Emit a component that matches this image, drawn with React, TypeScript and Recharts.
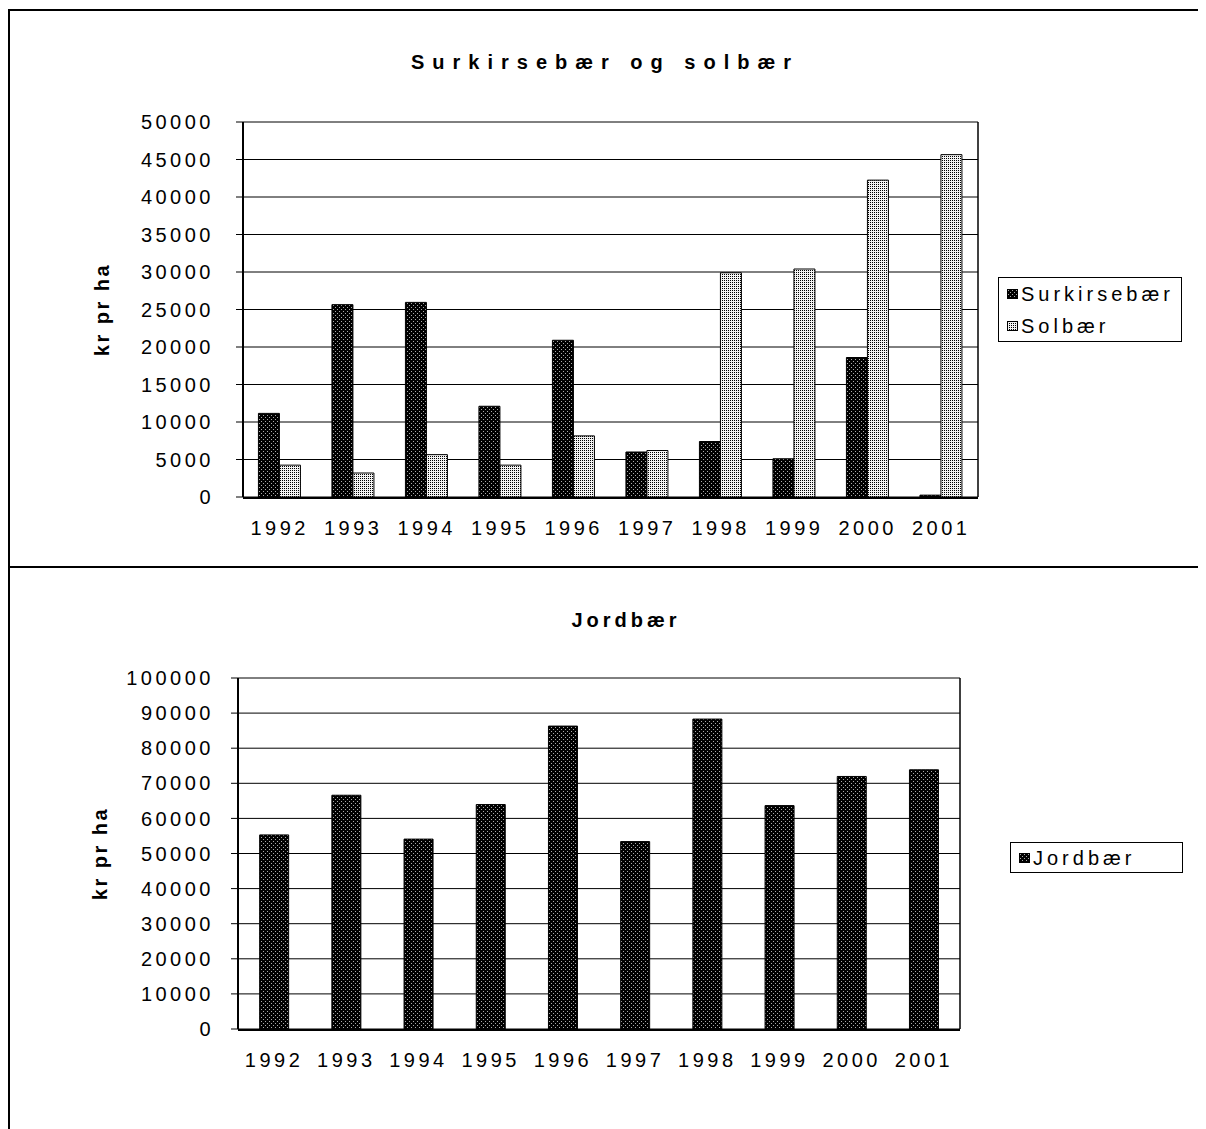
import React from 'react';
import { BarChart, Bar, XAxis, YAxis, CartesianGrid, Legend } from 'recharts';

const years = ['1992', '1993', '1994', '1995', '1996', '1997', '1998', '1999', '2000', '2001'];
const surkirsebaer = [11150, 25650, 25950, 12100, 20900, 6000, 7400, 5100, 18600, 250];
const solbaer = [4250, 3200, 5650, 4250, 8150, 6200, 29900, 30400, 42250, 45650];
const jordbaer = [55300, 66600, 54100, 63950, 86300, 53400, 88300, 63650, 71950, 73850];
const topTicks = [0, 5000, 10000, 15000, 20000, 25000, 30000, 35000, 40000, 45000, 50000];
const bottomTicks = [0, 10000, 20000, 30000, 40000, 50000, 60000, 70000, 80000, 90000, 100000];
const boundaries = [0, 1, 2, 3, 4, 5, 6, 7, 8, 9, 10];
const seriesOrder = ['Surkirsebær', 'Solbær', 'Jordbær'];

const topData = years.map((year, i) => ({ year, sur: surkirsebaer[i], sol: solbaer[i] }));
const bottomData = years.map((year, i) => ({ year, jord: jordbaer[i] }));

const FONT = '"Liberation Sans", Arial, Helvetica, sans-serif';
const LS = '3.5px';
const tickStyle = { fill: '#000', fontSize: 20, fontFamily: FONT };

const YLabel = (props: any) => {
  const vb = props.viewBox || { x: 0, y: 0, width: 0, height: 0 };
  const cx = vb.x + props.cxOffset;
  const cy = vb.y + vb.height / 2;
  return (
    <text
      x={cx}
      y={cy}
      transform={`rotate(-90 ${cx} ${cy})`}
      textAnchor="middle"
      dominantBaseline="central"
      style={{ fontFamily: FONT, fontSize: 20, fontWeight: 'bold', letterSpacing: '2.5px', fill: '#000' }}
    >
      kr pr ha
    </text>
  );
};

const makeLegend = (height: number, rowHeight: number) => (props: any) => {
  const payload = [...(props.payload || [])].sort(
    (a: any, b: any) => seriesOrder.indexOf(a.value) - seriesOrder.indexOf(b.value)
  );
  return (
    <div
      style={{
        boxSizing: 'border-box',
        border: '1px solid #000',
        background: '#fff',
        height,
        fontFamily: FONT,
        fontSize: 20,
        letterSpacing: '4px',
        color: '#000',
        paddingLeft: 8,
      }}
    >
      {payload.map((e: any) => (
        <div key={e.value} style={{ display: 'flex', alignItems: 'center', height: rowHeight }}>
          <svg width={11} height={10} style={{ marginRight: 3, flex: 'none' }}>
            <rect x={0.5} y={0.5} width={10} height={9} fill={e.color} stroke="#000" strokeWidth={1} />
          </svg>
          <span style={{ lineHeight: '20px' }}>{e.value}</span>
        </div>
      ))}
    </div>
  );
};

const Title = ({ text, cx, cy, ls }: { text: string; cx: number; cy: number; ls: number }) => (
  <div
    style={{
      position: 'absolute',
      left: cx - 300,
      top: cy - 12,
      width: 600,
      height: 24,
      lineHeight: '24px',
      textAlign: 'center',
      fontFamily: FONT,
      fontSize: 20,
      fontWeight: 'bold',
      letterSpacing: `${ls}px`,
      color: '#000',
      whiteSpace: 'nowrap',
    }}
  >
    {text}
  </div>
);

export default function App() {
  return (
    <div style={{ position: 'relative', width: 1198, height: 1121, background: '#fff', overflow: 'hidden' }}>
      <svg width={0} height={0} style={{ position: 'absolute' }}>
        <defs>
          <pattern id="darkDots" patternUnits="userSpaceOnUse" width={4} height={4}>
            <rect x={0} y={0} width={4} height={4} fill="#000" />
            <rect x={1} y={1} width={1} height={1} fill="#aaa" />
            <rect x={3} y={3} width={1} height={1} fill="#aaa" />
          </pattern>
          <pattern id="lightDots" patternUnits="userSpaceOnUse" width={2} height={2}>
            <rect x={0} y={0} width={2} height={2} fill="#f4f4f4" />
            <rect x={0} y={0} width={1} height={1} fill="#000" />
          </pattern>
        </defs>
      </svg>

      {/* frame */}
      <div style={{ position: 'absolute', left: 0, top: 1, width: 1198, height: 2, background: '#000' }} />
      <div style={{ position: 'absolute', left: 0, top: 1, width: 2, height: 1120, background: '#000' }} />
      <div style={{ position: 'absolute', left: 0, top: 558, width: 1198, height: 2, background: '#000' }} />

      <Title text="Surkirsebær og solbær" cx={597} cy={54} ls={8} />
      <Title text="Jordbær" cx={618} cy={612} ls={4} />

      <div style={{ position: 'absolute', left: 0, top: 0, letterSpacing: LS }}>
        <BarChart
          width={1198}
          height={556}
          data={topData}
          margin={{ top: 114, right: 227, bottom: 65, left: 0 }}
          barCategoryGap="21%"
          barGap={0}
        >
          <CartesianGrid vertical={false} stroke="#000" strokeOpacity={1} />
          <XAxis
            xAxisId="edge"
            type="number"
            domain={[0, 10]}
            ticks={boundaries}
            interval={0}
            height={1}
            tick={false}
            tickSize={6}
            axisLine={{ stroke: '#000', strokeWidth: 2 }}
            tickLine={{ stroke: '#000' }}
            allowDataOverflow
          />
          <XAxis
            dataKey="year"
            height={1}
            tickSize={0}
            tickMargin={24}
            axisLine={false}
            tickLine={false}
            tick={tickStyle}
            interval={0}
          />
          <YAxis
            domain={[0, 50000]}
            ticks={topTicks}
            interval={0}
            width={235}
            tickSize={7}
            tickMargin={22}
            tick={tickStyle}
            axisLine={{ stroke: '#000', strokeWidth: 2 }}
            tickLine={{ stroke: '#000' }}
            label={<YLabel cxOffset={94} />}
          />
          <YAxis
            yAxisId="frame"
            orientation="right"
            width={1}
            domain={[0, 1]}
            tick={false}
            tickLine={false}
            axisLine={{ stroke: '#000', strokeWidth: 1.5 }}
          />
          <Bar dataKey="sur" name="Surkirsebær" fill="url(#darkDots)" stroke="#000" strokeWidth={1} isAnimationActive={false} />
          <Bar dataKey="sol" name="Solbær" fill="url(#lightDots)" stroke="#000" strokeWidth={1} isAnimationActive={false} />
          <Legend
            layout="vertical"
            align="center"
            verticalAlign="middle"
            wrapperStyle={{ left: 990, top: 269, width: 184 }}
            content={makeLegend(65, 32)}
          />
        </BarChart>
      </div>

      <div style={{ position: 'absolute', left: 0, top: 560, letterSpacing: LS }}>
        <BarChart
          width={1198}
          height={561}
          data={bottomData}
          margin={{ top: 110, right: 245, bottom: 98, left: 0 }}
          barCategoryGap="30%"
          barGap={0}
        >
          <CartesianGrid vertical={false} stroke="#000" strokeOpacity={1} />
          <XAxis
            xAxisId="edge"
            type="number"
            domain={[0, 10]}
            ticks={boundaries}
            interval={0}
            height={1}
            tick={false}
            tickSize={6}
            axisLine={{ stroke: '#000', strokeWidth: 2 }}
            tickLine={{ stroke: '#000' }}
            allowDataOverflow
          />
          <XAxis
            dataKey="year"
            height={1}
            tickSize={0}
            tickMargin={24}
            axisLine={false}
            tickLine={false}
            tick={tickStyle}
            interval={0}
          />
          <YAxis
            domain={[0, 100000]}
            ticks={bottomTicks}
            interval={0}
            width={230}
            tickSize={7}
            tickMargin={17}
            tick={tickStyle}
            axisLine={{ stroke: '#000', strokeWidth: 2 }}
            tickLine={{ stroke: '#000' }}
            label={<YLabel cxOffset={92} />}
          />
          <YAxis
            yAxisId="frame"
            orientation="right"
            width={1}
            domain={[0, 1]}
            tick={false}
            tickLine={false}
            axisLine={{ stroke: '#000', strokeWidth: 1.5 }}
          />
          <Bar dataKey="jord" name="Jordbær" fill="url(#darkDots)" stroke="#000" strokeWidth={1} isAnimationActive={false} />
          <Legend
            layout="vertical"
            align="center"
            verticalAlign="middle"
            wrapperStyle={{ left: 1002, top: 274, width: 173 }}
            content={makeLegend(31, 29)}
          />
        </BarChart>
      </div>
    </div>
  );
}
